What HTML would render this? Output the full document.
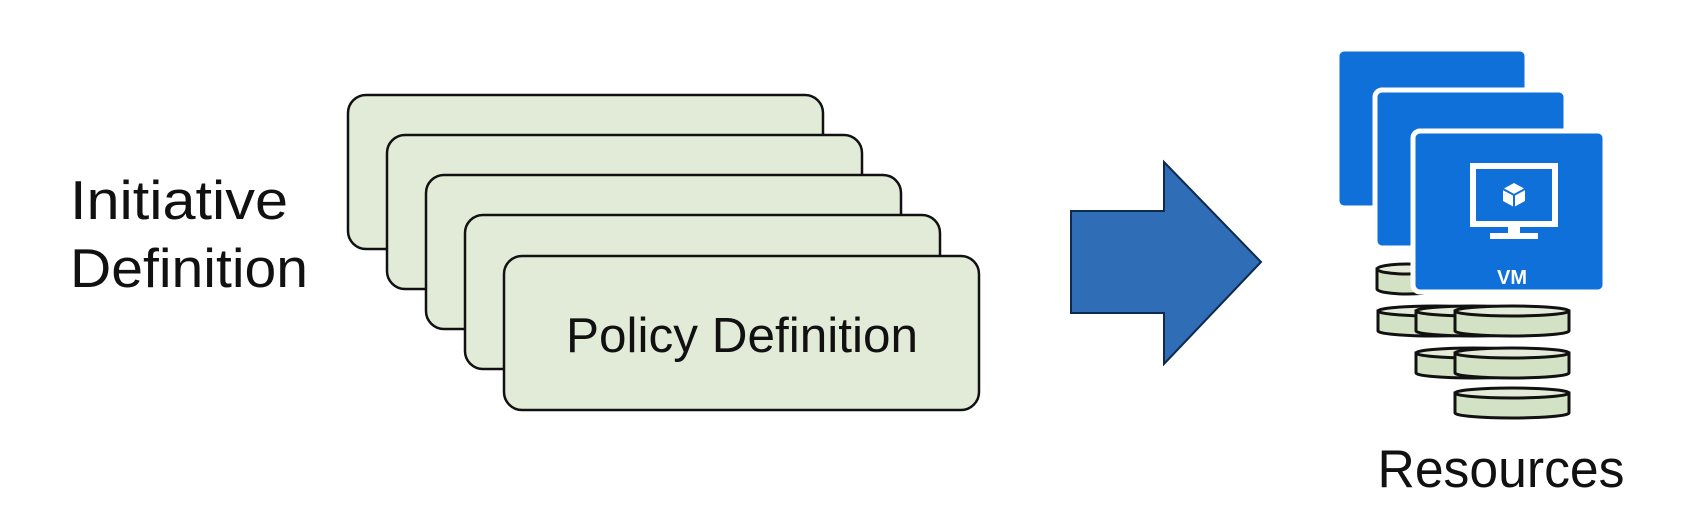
<!DOCTYPE html>
<html><head><meta charset="utf-8"><style>
html,body{margin:0;padding:0;background:#fff;}
svg{display:block;}
</style></head><body>
<svg width="1693" height="521" viewBox="0 0 1693 521" xmlns="http://www.w3.org/2000/svg">
<rect width="1693" height="521" fill="#fff"/>
<text x="70" y="219" font-family="Liberation Sans, sans-serif" font-size="55" fill="#111" textLength="218" lengthAdjust="spacingAndGlyphs">Initiative</text>
<text x="70" y="287" font-family="Liberation Sans, sans-serif" font-size="55" fill="#111" textLength="238" lengthAdjust="spacingAndGlyphs">Definition</text>
<g fill="#e2ead8" stroke="#111" stroke-width="2.5">
<rect x="348" y="95" width="475" height="154" rx="18"/>
<rect x="387" y="135" width="475" height="154" rx="18"/>
<rect x="426" y="175" width="475" height="154" rx="18"/>
<rect x="465" y="215" width="475" height="154" rx="18"/>
<rect x="504" y="256" width="475" height="154" rx="18"/>
</g>
<text x="742" y="352" text-anchor="middle" font-family="Liberation Sans, sans-serif" font-size="49" fill="#111" textLength="352" lengthAdjust="spacingAndGlyphs">Policy Definition</text>
<polygon points="1071,211 1164,211 1164,162 1261,262 1164,364 1164,313 1071,313" fill="#2f6db7" stroke="#0f2a4f" stroke-width="2"/>
<g fill="#0f70d9" stroke="#fff" stroke-width="5">
<rect x="1337" y="49" width="190" height="159" rx="7"/>
<rect x="1375" y="90" width="191" height="158" rx="7"/>
</g>
<g stroke="#111" stroke-width="3" fill="#d3e2c4">
<path d="M1377,269 L1377,289 A30,5 0 0 0 1437,289 L1437,269 Z"/>
<ellipse cx="1407" cy="269" rx="30" ry="5" fill="#e4ecd9"/>
</g>
<rect x="1413" y="131" width="192" height="161" rx="7" fill="#0f70d9" stroke="#fff" stroke-width="5"/>
<g fill="none" stroke="#fff" stroke-width="6">
<rect x="1473" y="166" width="82" height="58"/>
</g>
<rect x="1508" y="225" width="12" height="9" fill="#fff"/>
<rect x="1490" y="233" width="48" height="6" fill="#fff"/>
<path d="M1514,183 L1525,189 L1525,201 L1514,207 L1503,201 L1503,189 Z" fill="#fff"/>
<path d="M1503,189 L1514,195 L1525,189 M1514,195 L1514,207" stroke="#0f70d9" stroke-width="2" fill="none"/>
<text x="1512" y="284" text-anchor="middle" font-family="Liberation Sans, sans-serif" font-weight="bold" font-size="20" fill="#fff">VM</text>
<g stroke="#111" stroke-width="3" fill="#d3e2c4">
<path d="M1378,311 L1378,331 A57,5 0 0 0 1492,331 L1492,311 Z"/><ellipse cx="1435" cy="311" rx="57" ry="5" fill="#e4ecd9"/>
<path d="M1416,311 L1416,331 A57,5 0 0 0 1530,331 L1530,311 Z"/><ellipse cx="1473" cy="311" rx="57" ry="5" fill="#e4ecd9"/>
<path d="M1455,311 L1455,331 A57,5 0 0 0 1569,331 L1569,311 Z"/><ellipse cx="1512" cy="311" rx="57" ry="5" fill="#e4ecd9"/>
<path d="M1416,353 L1416,373 A57,5 0 0 0 1530,373 L1530,353 Z"/><ellipse cx="1473" cy="353" rx="57" ry="5" fill="#e4ecd9"/>
<path d="M1455,353 L1455,373 A57,5 0 0 0 1569,373 L1569,353 Z"/><ellipse cx="1512" cy="353" rx="57" ry="5" fill="#e4ecd9"/>
<path d="M1455,393 L1455,413 A57,5 0 0 0 1569,413 L1569,393 Z"/><ellipse cx="1512" cy="393" rx="57" ry="5" fill="#e4ecd9"/>
</g>
<text x="1501" y="487" text-anchor="middle" font-family="Liberation Sans, sans-serif" font-size="53" fill="#111" textLength="247" lengthAdjust="spacingAndGlyphs">Resources</text>
</svg>
</body></html>
